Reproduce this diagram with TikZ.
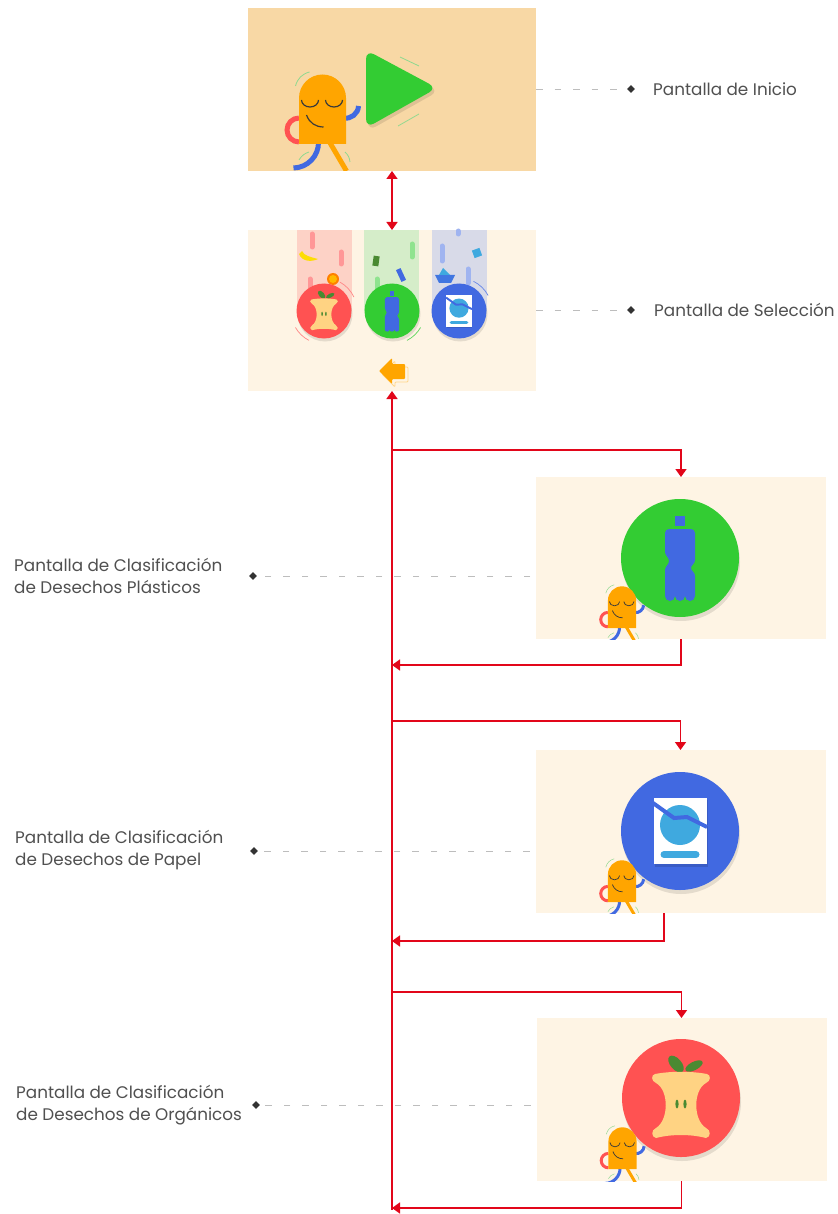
\documentclass[tikz,border=0pt]{standalone}
\usepackage{fontspec}
\setmainfont{Poppins}
\usetikzlibrary{arrows.meta,shapes.geometric,calc}

\definecolor{peach}{HTML}{F8D8A5}
\definecolor{cream}{HTML}{FEF4E4}
\definecolor{flowred}{HTML}{E2061A}
\definecolor{guidegray}{HTML}{BDBDBD}
\definecolor{labelgray}{HTML}{505050}
\definecolor{dotgray}{HTML}{333333}
\definecolor{mango}{HTML}{FFA500}
\definecolor{royal}{HTML}{4169E1}
\definecolor{tomato}{HTML}{FF5252}
\definecolor{lime}{HTML}{33CC33}
\definecolor{sky}{HTML}{3FA9DF}
\definecolor{coretan}{HTML}{FFD383}
\definecolor{leafgreen}{HTML}{4A8A32}
\definecolor{swinggreen}{HTML}{8FD88F}
\definecolor{ink}{HTML}{3A3A3A}
\definecolor{rosebg}{HTML}{FDD2C6}
\definecolor{mintbg}{HTML}{D5EDC9}
\definecolor{lilacbg}{HTML}{D8DAE8}

\tikzset{
  screen/.style={rectangle, inner sep=0pt, outer sep=0pt, fill=cream,
    minimum width=290pt, minimum height=162pt},
  flow/.style={draw=flowred, line width=1.6pt, -{Triangle[length=8pt,width=11pt]}},
  guide/.style={draw=guidegray, line width=0.8pt, dash pattern=on 6.5pt off 12pt},
  dot/.style={diamond, fill=dotgray, inner sep=0pt, minimum size=8pt},
  caption/.style={text=labelgray, font=\fontsize{16.8}{22.5}\selectfont,
    inner sep=0pt, align=left, anchor=west},
  swing/.style={draw=swinggreen, line width=0.8pt},
  streak/.style={line width=5pt, line cap=round},
  shadowc/.style={fill=black, opacity=0.1},
  % little walking figure, origin at the bottom middle of its body
  pics/mascot/.style={code={
    \begin{scope}[scale=#1]
      \draw[swing, line width=#1*0.8pt] (-27,58) to[bend left=30] (-13,72);
      \draw[swing, line width=#1*0.8pt] (-23.5,-16) to[bend left=20] (-13.5,-8);
      \draw[swing, line width=#1*0.8pt] (22.5,-8) to[bend left=20] (27.5,-18);
      \draw[tomato, line width=#1*5pt] (-23.5,26) arc[start angle=90,end angle=270,radius=12];
      \draw[royal, line width=#1*5pt] (21,26) to[bend right=50] (36,38);
      \draw[royal, line width=#1*5pt] (-4,2) to[bend left=45] (-29,-24);
      \draw[mango, line width=#1*5pt] (7,2) -- (24,-27);
      \fill[mango] (-23.5,0) -- (-23.5,46) arc[start angle=180,end angle=0,radius=23.5]
        -- (23.5,0) -- cycle;
      \draw[ink, line width=#1*1.2pt] (-21,44) arc[start angle=180,end angle=360,x radius=8.5,y radius=7];
      \draw[ink, line width=#1*1.2pt] (3,44) arc[start angle=180,end angle=360,x radius=8.5,y radius=7];
      \draw[ink, line width=#1*1.2pt] (-16,29) to[bend right=35] (1,17);
    \end{scope}
  }},
  % plastic bottle, origin at the middle of the badge
  pics/bottle/.style={code={
    \begin{scope}[scale=#1]
      \fill[royal] (-5,32) rectangle (5,42);
      \fill[royal] (-15,25) to[out=90,in=180] (-11,29) -- (11,29) to[out=0,in=90] (15,25)
        -- (15,-2) .. controls (15,-6) and (11,-7) .. (11,-10)
        .. controls (11,-13) and (15,-14) .. (15,-18)
        -- (15,-38) arc[start angle=0,end angle=-180,radius=5]
        arc[start angle=0,end angle=-180,radius=5]
        arc[start angle=0,end angle=-180,radius=5]
        -- (-15,-12) .. controls (-15,-8) and (-11,-7) .. (-11,-3)
        .. controls (-11,1) and (-15,2) .. (-15,6) -- cycle;
    \end{scope}
  }},
  % torn paper sheet
  pics/paper/.style={code={
    \begin{scope}[scale=#1]
      \fill[black, opacity=0.12] (-25,-36) rectangle (28,31);
      \fill[white] (-26.5,-33) rectangle (26.5,33);
      \fill[sky] (0,6) circle (20);
      \draw[sky, line width=#1*7pt, line cap=round] (-16,-23.5) -- (16,-23.5);
      \draw[royal, line width=#1*4pt] (-27,28) -- (-6,13) -- (7,14) -- (27,4);
    \end{scope}
  }},
  % apple core
  pics/core/.style={code={
    \begin{scope}[scale=#1]
      \fill[leafgreen, rotate around={131:(-5,34)}] (-5,34) ellipse (10 and 5.5);
      \fill[leafgreen, rotate around={27:(13,32)}] (13,32) ellipse (9.5 and 4.2);
      \fill[coretan] (-26,24) .. controls (-10,27) and (10,27) .. (26,24)
        .. controls (30,23) and (30,17) .. (25,15)
        .. controls (12,8) and (12,-22) .. (25,-30)
        .. controls (30,-32) and (30,-39) .. (25,-40)
        .. controls (10,-36) and (-10,-36) .. (-25,-40)
        .. controls (-30,-39) and (-30,-32) .. (-25,-30)
        .. controls (-12,-22) and (-12,8) .. (-25,15)
        .. controls (-30,17) and (-30,23) .. (-26,24) -- cycle;
      \fill[leafgreen] (-4,-6) ellipse (1.6 and 4.5);
      \fill[leafgreen] (4,-6) ellipse (1.6 and 4.5);
    \end{scope}
  }}
}

\begin{document}
\begin{tikzpicture}[x=1pt,y=1pt]
\fill[white] (0,0) rectangle (837,-1214);
\useasboundingbox (0,0) rectangle (837,-1214);

% screens
\node[screen, fill=peach, minimum width=288pt, minimum height=163pt] (ini) at (392,-89.5) {};
\node[screen, minimum width=288pt, minimum height=161pt] (sel) at (392,-310.5) {};
\node[screen] (plas) at (681,-558) {};
\node[screen, minimum height=163pt] (pap) at (680.5,-831.5) {};
\node[screen, minimum height=163pt] (org) at (681.5,-1099.5) {};

% start screen: play button and figure
\fill[shadowc, rounded corners=9pt] (368,-92) -- (368,-53) -- (439,-91) -- (368,-131) -- cycle;
\fill[lime, rounded corners=9pt] (366,-89) -- (366,-50) -- (437,-88) -- (366,-128) -- cycle;
\draw[swing] (400,-57) -- (419,-66);
\draw[swing] (398,-126) -- (419,-114);
\begin{scope}
  \clip (ini.south west) rectangle (ini.north east);
  \pic at (322.5,-144) {mascot=1};
\end{scope}

% selection screen: three falling columns
\fill[rosebg] (297,-230) rectangle (352,-311);
\fill[mintbg] (364,-230) rectangle (419,-311);
\fill[lilacbg] (432,-230) rectangle (487,-311);
\draw[streak, draw=tomato!60] (312,-234) -- (312,-247) (341,-252) -- (341,-264) (310,-279) -- (310,-287);
\draw[streak, draw=lime!55] (412,-244) -- (412,-257) (377,-279) -- (377,-289);
\draw[streak, draw=royal!50] (458,-231) -- (458,-234) (442,-246) -- (442,-261) (468,-269) -- (468,-283);
% falling bits
\fill[yellow!80!orange] (299,-254) .. controls (302,-262) and (312,-262) .. (318,-259)
  .. controls (311,-257) and (304,-256) .. (302,-251) -- cycle;
\fill[orange] (333,-279) circle (6);
\fill[orange!55!yellow] (333,-279) circle (4);
\fill[leafgreen, rotate around={-8:(376,-261)}] (373,-256) rectangle (379,-266);
\fill[royal, rotate around={25:(401,-275)}] (398.5,-268.5) rectangle (403.5,-281.5);
\fill[sky, rotate around={20:(477,-253)}] (473,-249) rectangle (481,-257);
\fill[royal!80!sky] (435,-275) -- (455,-275) -- (451,-283) -- (439,-283) -- cycle;
\fill[sky] (443,-268) -- (450,-275) -- (439,-275) -- cycle;
% category badges
\foreach \cx/\col in {324/tomato, 392/lime, 459/royal}{
  \fill[shadowc] (\cx+1,-314) circle (27.5);
  \fill[\col] (\cx,-311) circle (27.5);
}
\pic at (324,-311) {core=0.48};
\pic at (392,-311) {bottle=0.48};
\pic at (459,-311) {paper=0.48};
\draw[tomato!70, line width=0.7pt] (324,-311) ++(61:33) arc[start angle=61,end angle=25,radius=33];
\draw[tomato!70, line width=0.7pt] (324,-311) ++(210:33) arc[start angle=210,end angle=243,radius=33];
\draw[lime!80, line width=0.7pt] (392,-311) ++(-63:33) arc[start angle=-63,end angle=-30,radius=33];
\draw[royal!80, line width=0.7pt] (459,-311) ++(64:33) arc[start angle=64,end angle=28,radius=33];
% back button
\draw[mango!45, line width=0.8pt, rounded corners=1pt] (382,-374) -- (395,-361) -- (395,-367) -- (408,-367)
  -- (408,-382) -- (395,-382) -- (395,-387) -- cycle;
\fill[mango, rounded corners=1pt] (379,-371) -- (392,-358) -- (392,-364) -- (405,-364)
  -- (405,-379) -- (392,-379) -- (392,-384) -- cycle;

% sorting screens
\fill[shadowc] (681,-562) circle (59);
\fill[lime] (680,-558) circle (59);
\pic at (680,-558) {bottle=1};
\fill[shadowc] (681,-835) circle (59);
\fill[royal] (680,-831) circle (59);
\pic at (680,-831) {paper=1};
\fill[shadowc] (682,-1102) circle (59);
\fill[tomato] (681,-1098) circle (59);
\pic at (681,-1098) {core=1};
\begin{scope}
  \clip (plas.south west) rectangle (plas.north east);
  \pic at (622,-628) {mascot=0.6};
\end{scope}
\begin{scope}
  \clip (pap.south west) rectangle (pap.north east);
  \pic at (622,-902) {mascot=0.6};
\end{scope}
\begin{scope}
  \clip (org.south west) rectangle (org.north east);
  \pic at (622.5,-1169) {mascot=0.6};
\end{scope}

% labels
\node[dot] (d1) at (631,-89) {};
\node[caption] (l1) at (653,-89) {Pantalla de Inicio};
\node[dot] (d2) at (631,-310) {};
\node[caption] (l2) at (654,-310) {Pantalla de Selección};
\node[dot] (d3) at (253,-576) {};
\node[caption] (l3) at (14,-576) {Pantalla de Clasificación\\de Desechos Plásticos};
\node[dot] (d4) at (254,-851) {};
\node[caption] (l4) at (15,-850) {Pantalla de Clasificación\\de Desechos de Papel};
\node[dot] (d5) at (256,-1105) {};
\node[caption] (l5) at (16,-1105) {Pantalla de Clasificación\\de Desechos de Orgánicos};
\draw[guide] (ini.east |- d1) -- (d1);
\draw[guide] (sel.east |- d2) -- (d2);
\draw[guide] ([xshift=-6pt]plas.west |- d3) -- (d3);
\draw[guide] ([xshift=-6pt]pap.west |- d4) -- (d4);
\draw[guide] ([xshift=-6pt]org.west |- d5) -- (d5);

% navigation
\draw[flow, {Triangle[length=8pt,width=11pt]}-{Triangle[length=8pt,width=11pt]}] (ini) -- (sel);
\coordinate (base) at (392,-1210);
\coordinate (b1) at (392,-450);
\coordinate (r1) at (392,-665);
\coordinate (b2) at (392,-721);
\coordinate (r2) at (392,-941);
\coordinate (b3) at (392,-992);
\coordinate (r3) at (392,-1208);
\draw[flow] (base) -- (sel.south);
\draw[flow] (b1) -| (plas.north);
\draw[flow] (plas.south) |- (r1);
\draw[flow] (b2) -| (pap.north);
\draw[flow] ([xshift=-16.5pt]pap.south) |- (r2);
\draw[flow] (b3) -| (org.north);
\draw[flow] (org.south) |- (r3);

\end{tikzpicture}
\end{document}
